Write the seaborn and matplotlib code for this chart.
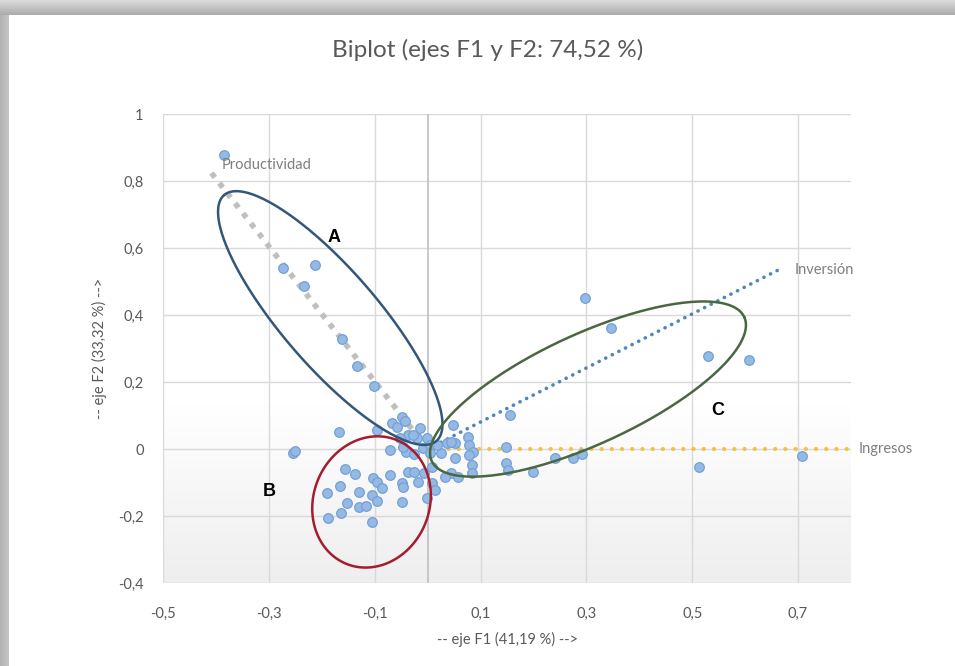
import numpy as np
import pandas as pd
import matplotlib
matplotlib.use("Agg")
import matplotlib.pyplot as plt
import seaborn as sns

# ---------------- data ----------------
f1 = [-0.384, -0.274, -0.212, -0.233, -0.161, -0.134, -0.102, -0.168, -0.255, -0.250,
      -0.095, -0.068, -0.049, -0.042, -0.015, -0.038, -0.021, -0.002, -0.053, -0.072,
      -0.040, -0.025, -0.009, 0.004, 0.036, 0.051, 0.047, 0.076, 0.079, 0.085,
      0.026, 0.051, -0.047, -0.028, -0.057, 0.155, 0.083, 0.083, 0.079, 0.149,
      0.149, 0.151, 0.199, 0.240, 0.274, 0.291, 0.045, 0.045, 0.297, 0.346,
      0.530, 0.607, 0.513, 0.708, -0.157, -0.138, -0.072, -0.038, -0.025, -0.006,
      -0.166, -0.191, -0.129, -0.104, -0.095, -0.087, -0.106, -0.096, -0.153, -0.129,
      -0.117, -0.049, -0.047, -0.019, 0.008, 0.013, -0.002, -0.049, -0.163, -0.189,
      -0.106, 0.009, 0.032, 0.057, 0.004, 0.017]
f2 = [0.878, 0.540, 0.549, 0.487, 0.328, 0.248, 0.188, 0.051, -0.012, -0.006,
      0.057, 0.078, 0.096, 0.084, 0.063, 0.042, 0.033, 0.033, 0.033, -0.003,
      -0.009, -0.015, 0.003, 0.012, 0.018, 0.018, 0.072, 0.036, 0.012, -0.009,
      -0.012, -0.027, 0.006, 0.042, 0.066, 0.101, -0.048, -0.072, -0.018, 0.006,
      -0.042, -0.063, -0.069, -0.027, -0.027, -0.015, 0.021, -0.072, 0.451, 0.361,
      0.278, 0.266, -0.054, -0.021, -0.060, -0.075, -0.078, -0.069, -0.069, -0.072,
      -0.110, -0.131, -0.128, -0.087, -0.099, -0.116, -0.137, -0.155, -0.161, -0.173,
      -0.170, -0.101, -0.113, -0.099, -0.101, -0.122, -0.146, -0.158, -0.191, -0.206,
      -0.218, -0.054, -0.084, -0.084, -0.012, 0.012]

variables = ["Productividad", "Inversión", "Ingresos"]
load_f1 = [-0.416, 0.662, 0.795]
load_f2 = [0.839, 0.534, 0.0]

x_ticks = [-0.5, -0.3, -0.1, 0.1, 0.3, 0.5, 0.7]
x_tick_labels = ["-0,5", "-0,3", "-0,1", "0,1", "0,3", "0,5", "0,7"]
y_ticks = [-0.4, -0.2, 0.0, 0.2, 0.4, 0.6, 0.8, 1.0]
y_tick_labels = ["-0,4", "-0,2", "0", "0,2", "0,4", "0,6", "0,8", "1"]

title = "Biplot (ejes F1 y F2: 74,52 %)"
x_label = "-- eje F1 (41,19 %) -->"
y_label = "-- eje F2 (33,32 %) -->"

# group ellipses: center, semi-axis vector 1, semi-axis vector 2 (data units)
group_names = ["A", "B", "C"]
ell_center = [(-0.184, 0.391), (-0.106, -0.158), (0.303, 0.179)]
ell_u = [(-0.2006, 0.367), (0.0473, 0.185), (0.2953, 0.2149)]
ell_v = [(0.0687, 0.0935), (0.1016, -0.0645), (0.0437, -0.149)]
ell_colors = ["#33577a", "#a51c30", "#4b6741"]
group_label_pos = [(-0.176, 0.630), (-0.299, -0.128), (0.549, 0.116)]

# ---------------- style ----------------
sns.set_theme(style="white")
plt.rcParams["font.family"] = ["Lato", "DejaVu Sans"]
grey_txt = "#595959"

fig = plt.figure(figsize=(9.55, 6.66), dpi=100)
fig.patch.set_facecolor("white")

# decorative frame (shadow band at top and left)
bg = fig.add_axes([0, 0, 1, 1], zorder=-10)
H, W = 666, 955
img = np.ones((H, W, 3))
top = 15
for r in range(top):
    v = 0.86 - 0.20 * (r / top)
    img[r, :, :] = v
left = 9
for c in range(left):
    v = 0.70 + 0.08 * (c / left)
    img[top:, c, :] = v
bg.imshow(img, aspect="auto", extent=[0, 1, 0, 1], interpolation="bilinear")
bg.set_axis_off()

ax = fig.add_axes([0.1707, 0.1246, 0.7204, 0.7042])
ax.set_xlim(-0.5, 0.8)
ax.set_ylim(-0.4, 1.0)

# plot-area gradient (white at top -> light grey at bottom)
grad = np.linspace(0, 1, 256).reshape(-1, 1)
grad = np.clip((0.38 - grad) / 0.38, 0, 1)
cols = np.ones((256, 1, 3))
cols[:, 0, :] = (1.0 - 0.065 * grad)
ax.imshow(cols, aspect="auto", extent=[-0.5, 0.8, -0.4, 1.0], origin="lower",
          zorder=0, interpolation="bilinear")

for s in ax.spines.values():
    s.set_visible(False)

# grid
for xv in x_ticks:
    ax.axvline(xv, color="#d9d9d9", lw=1.0, zorder=1)
for yv in y_ticks:
    ax.axhline(yv, color="#d9d9d9", lw=1.0, zorder=1)
ax.axvline(0, color="#bfbfbf", lw=1.2, zorder=1)

ax.set_xticks(x_ticks)
ax.set_xticklabels(x_tick_labels)
ax.set_yticks(y_ticks)
ax.set_yticklabels(y_tick_labels)
ax.tick_params(axis="both", length=0, colors=grey_txt, labelsize=10.5)
ax.tick_params(axis="x", pad=17)
ax.tick_params(axis="y", pad=14)
ax.set_xlabel(x_label, color=grey_txt, fontsize=10.5, labelpad=8)
ax.set_ylabel(y_label, color=grey_txt, fontsize=10.5, labelpad=8)

# observations
obs = pd.DataFrame({"F1": f1, "F2": f2})
sns.scatterplot(data=obs, x="F1", y="F2", ax=ax, s=48, color="#95b9e5",
                edgecolor="#74a0d4", linewidth=0.9, zorder=4, legend=False)

# variable vectors
vec_styles = {
    "Productividad": dict(color="#bfbfbf", lw=4.0, ls=(0, (1, 1.3)), cap="butt"),
    "Inversión": dict(color="#4f86c0", lw=2.6, ls=(0, (0.05, 2.0)), cap="round"),
    "Ingresos": dict(color="#f4c242", lw=3.0, ls=(0, (0.05, 2.4)), cap="round"),
}
for name, vx, vy in zip(variables, load_f1, load_f2):
    st = vec_styles[name]
    line, = ax.plot([0, vx], [0, vy], color=st["color"], lw=st["lw"],
                    linestyle=st["ls"], zorder=3)
    line.set_dash_capstyle(st["cap"])

ax.text(load_f1[0] + 0.026, load_f2[0] + 0.009, variables[0], color="#7f7f7f",
        fontsize=10.5, ha="left", va="center", zorder=6)
ax.text(load_f1[1] + 0.032, load_f2[1], variables[1], color="#7f7f7f",
        fontsize=10.5, ha="left", va="center", zorder=6, clip_on=False)
ax.text(load_f1[2] + 0.019, load_f2[2], variables[2], color="#7f7f7f",
        fontsize=10.5, ha="left", va="center", zorder=6, clip_on=False)

# group ellipses
t = np.linspace(0, 2 * np.pi, 300)
for (cx, cy), (ux, uy), (vx, vy), col in zip(ell_center, ell_u, ell_v, ell_colors):
    ex = cx + ux * np.cos(t) + vx * np.sin(t)
    ey = cy + uy * np.cos(t) + vy * np.sin(t)
    ax.plot(ex, ey, color=col, lw=1.8, zorder=5)

for name, (gx, gy) in zip(group_names, group_label_pos):
    ax.text(gx, gy, name, fontsize=13, fontweight="bold", color="black",
            ha="center", va="center", family=["Liberation Sans", "DejaVu Sans"], zorder=7)

fig.text(0.511, 0.925, title, ha="center", va="center", fontsize=17.5, color=grey_txt)

fig.savefig("out.png", dpi=100)
